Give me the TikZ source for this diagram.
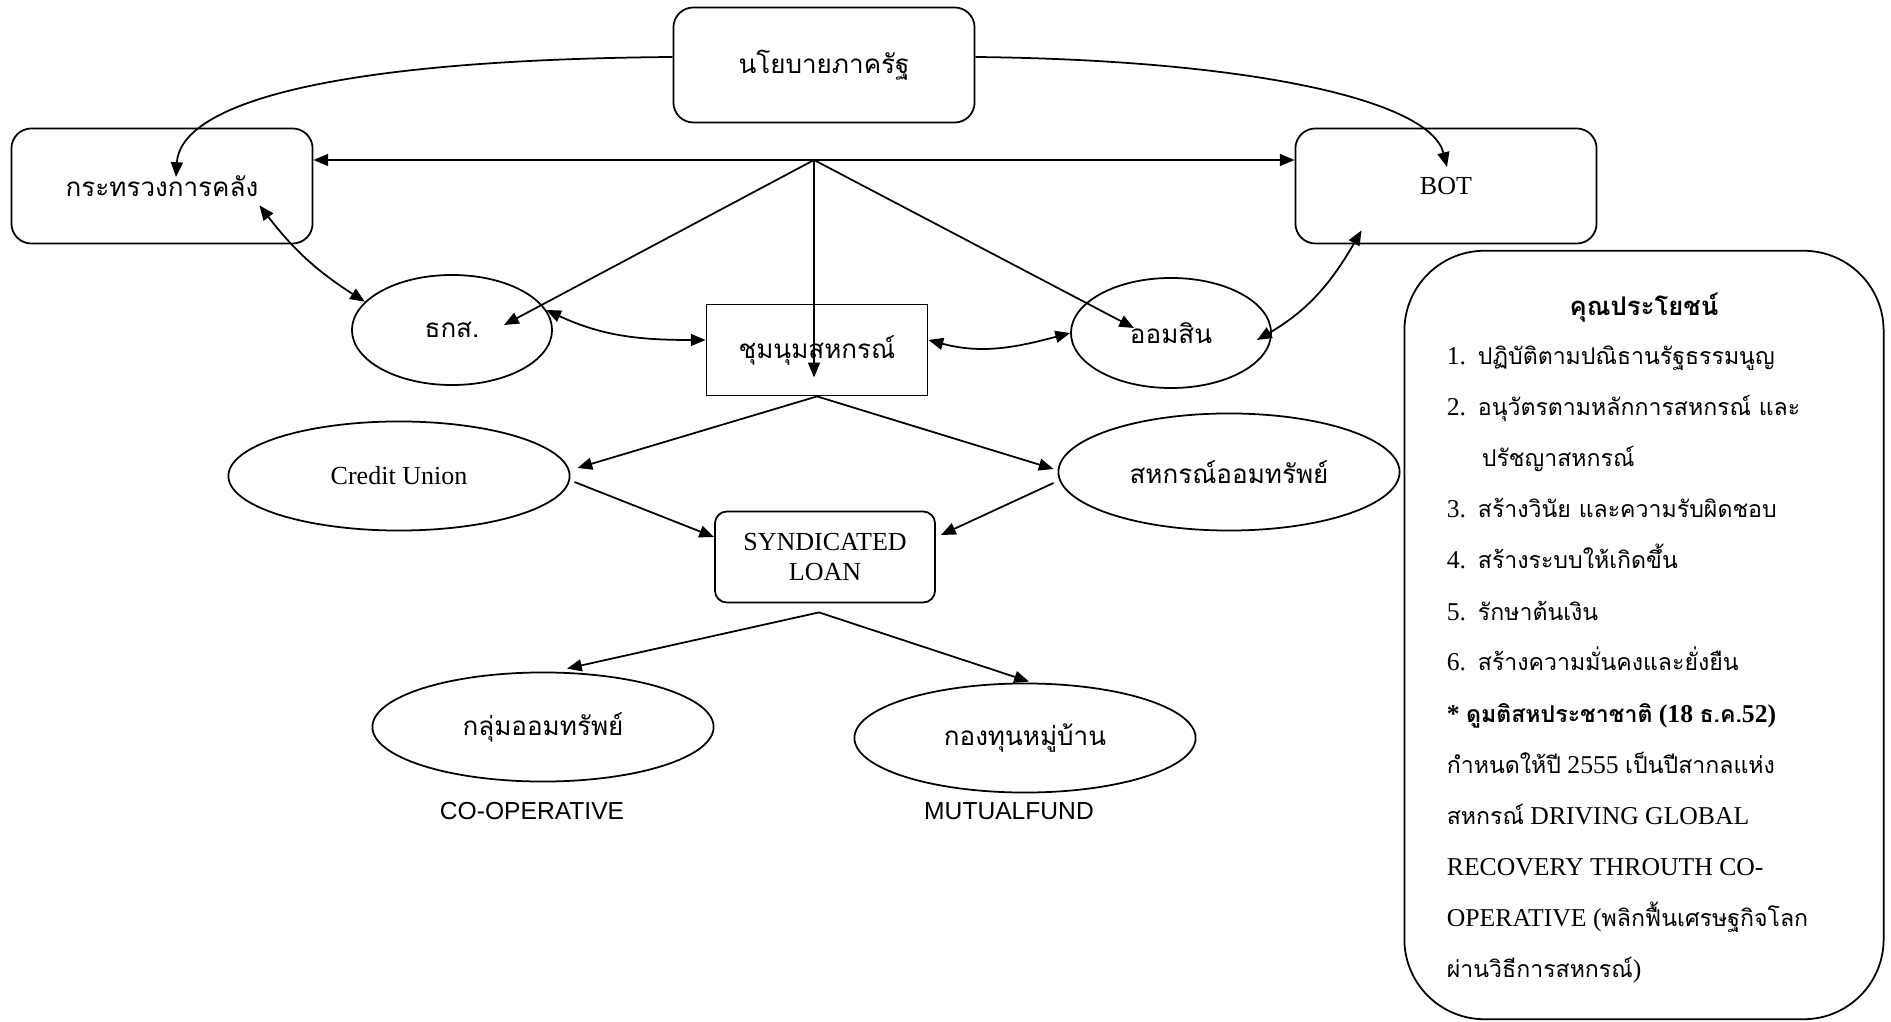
\documentclass[tikz,border=0pt]{standalone}
\usepackage{fontspec}
\setmainfont{Liberation Serif}
\newfontfamily\thai[Script=Thai]{Loma}
\newfontfamily\thaiList[Script=Thai,Scale=0.9]{Loma}
\newfontfamily\labelsans{Liberation Sans}
\usetikzlibrary{arrows.meta,positioning,shapes.geometric,calc}
\newcommand{\bItem}[2]{\makebox[0.31cm][l]{#1}{\thaiList #2}}

\begin{document}
\begin{tikzpicture}[
    x=0.01cm, y=-0.01cm,
    font=\fontsize{7.4}{8.4}\selectfont,
    line width=0.5pt,
    th/.style={font=\fontsize{7.4}{8.4}\selectfont\thai},
    rbox/.style={draw, rounded corners=0.2cm, minimum width=3.01cm, minimum height=1.15cm, align=center},
    sbox/.style={draw, minimum width=2.21cm, minimum height=0.91cm},
    ebox/.style={draw, ellipse, inner sep=0pt, minimum width=3.41cm, minimum height=1.09cm},
    arr/.style={-{Triangle[length=4.2pt,width=3.4pt]}},
    arr2/.style={{Triangle[length=4.2pt,width=3.4pt]}-{Triangle[length=4.2pt,width=3.4pt]}}
]
  \fill[white] (0,0) rectangle (1891,1022);
  \useasboundingbox (0,0) rectangle (1891,1022);

  % top row
  \node[rbox, th] (policy) at (824,65) {นโยบายภาครัฐ};
  \node[rbox, th] (finance) at (162,186) {กระทรวงการคลัง};
  \node[rbox] (bot) at (1446,186) {BOT};

  % middle row
  \node[ebox, th, minimum width=2cm, minimum height=1.1cm] (baac) at (452,330) {ธกส.};
  \node[sbox, th] (federation) at (817,350) {ชุมนุมสหกรณ์};
  \node[ebox, th, minimum width=2cm, minimum height=1.1cm] (gsb) at (1171,333) {ออมสิน};

  \node[ebox] (cu) at (399,476) {Credit Union};
  \node[ebox, th, minimum height=1.17cm] (csav) at (1229,472) {สหกรณ์ออมทรัพย์};
  \node[rbox, rounded corners=0.12cm, minimum width=2.2cm, minimum height=0.91cm] (loan) at (825,557) {SYNDICATED\\LOAN};

  % bottom row
  \node[ebox, th] (sg) at (543,727) {กลุ่มออมทรัพย์};
  \node[ebox, th] (vf) at (1025,738) {กองทุนหมู่บ้าน};
  \node[font=\fontsize{7}{8}\selectfont\labelsans] (sgLabel) at (532,811) {CO-OPERATIVE};
  \node[font=\fontsize{7}{8}\selectfont\labelsans] (vfLabel) at (1009,811) {MUTUALFUND};

  % links from the policy box
  \coordinate (hub) at (814,160);
  \draw[arr] (hub) -- (hub -| finance.east);
  \draw[arr] (hub) -- (hub -| bot.west);
  \draw[arr] (hub) -- ($(baac.center)+(52,-5)$);
  \draw[arr] (hub) -- ($(hub |- federation.south)+(0,-19)$);
  \draw[arr] (hub) -- ($(gsb.center)+(-37,-5)$);
  \draw[arr] ($(policy.west)+(0,-8)$) .. controls +(-370,3) and +(4,-67) .. ($(finance.center)+(14,-9)$);
  \draw[arr] ($(policy.east)+(0,-8)$) .. controls +(275,3) and +(-17,-67) .. ($(bot.center)+(1,-19)$);

  % two-way links
  \draw[arr2] ($(finance.south east)+(-54,-39)$) to[bend right=10] (baac.162);
  \draw[arr2] (baac.12) to[out=-25, in=180] ($(federation.west)+(0,-10)$);
  \draw[arr2] ($(federation.east)+(0,-10)$) to[out=-15, in=195] (gsb.west);
  \draw[arr2] ($(gsb.east)+(-15,7)$) to[out=30, in=-120] ($(bot.south west)+(67,-14)$);

  % lower links
  \draw[arr] (federation.south) -- ($(cu.east)+(7,-8)$);
  \draw[arr] (federation.south) -- ($(csav.west)+(-4,-3)$);
  \draw[arr] ($(cu.east)+(4,6)$) -- ($(loan.west)+(0,-20)$);
  \draw[arr] ($(csav.west)+(-4,11)$) -- ($(loan.east)+(5,-22)$);
  \coordinate (hubC) at ($(loan.south)+(-6,9)$);
  \draw[arr] (hubC) -- ($(sg.north)+(24,-3)$);
  \draw[arr] (hubC) -- ($(vf.north)+(4,-1)$);

  % benefits box
  \node[draw, rounded corners=0.8cm, minimum width=4.79cm, minimum height=7.68cm] (benefits) at (1644,635) {};
  \node[font=\fontsize{7.3}{8}\selectfont\thai\bfseries] (benefitsTitle) at (1644,308) {คุณประโยชน์};
  \foreach \txt [count=\i] in {
      {\bItem{1.}{ปฏิบัติตามปณิธานรัฐธรรมนูญ}},
      {\bItem{2.}{อนุวัตรตามหลักการสหกรณ์ และ}},
      {\hspace*{0.35cm}{\thaiList ปรัชญาสหกรณ์}},
      {\bItem{3.}{สร้างวินัย และความรับผิดชอบ}},
      {\bItem{4.}{สร้างระบบให้เกิดขึ้น}},
      {\bItem{5.}{รักษาต้นเงิน}},
      {\bItem{6.}{สร้างความมั่นคงและยั่งยืน}},
      {\bfseries * {\thaiList ดูมติสหประชาชาติ} (18 {\thaiList ธ.ค.}52)},
      {{\thaiList กำหนดให้ปี} 2555 {\thaiList เป็นปีสากลแห่ง}},
      {{\thaiList สหกรณ์} DRIVING GLOBAL},
      {RECOVERY THROUTH CO-},
      {OPERATIVE ({\thaiList พลิกฟื้นเศรษฐกิจโลก}},
      {{\thaiList ผ่านวิธีการสหกรณ์})}}
    \node[anchor=base west, inner sep=0pt, font=\fontsize{7.3}{8}\selectfont] (item\i) at (1446,314+51*\i) {\txt};
\end{tikzpicture}
\end{document}
